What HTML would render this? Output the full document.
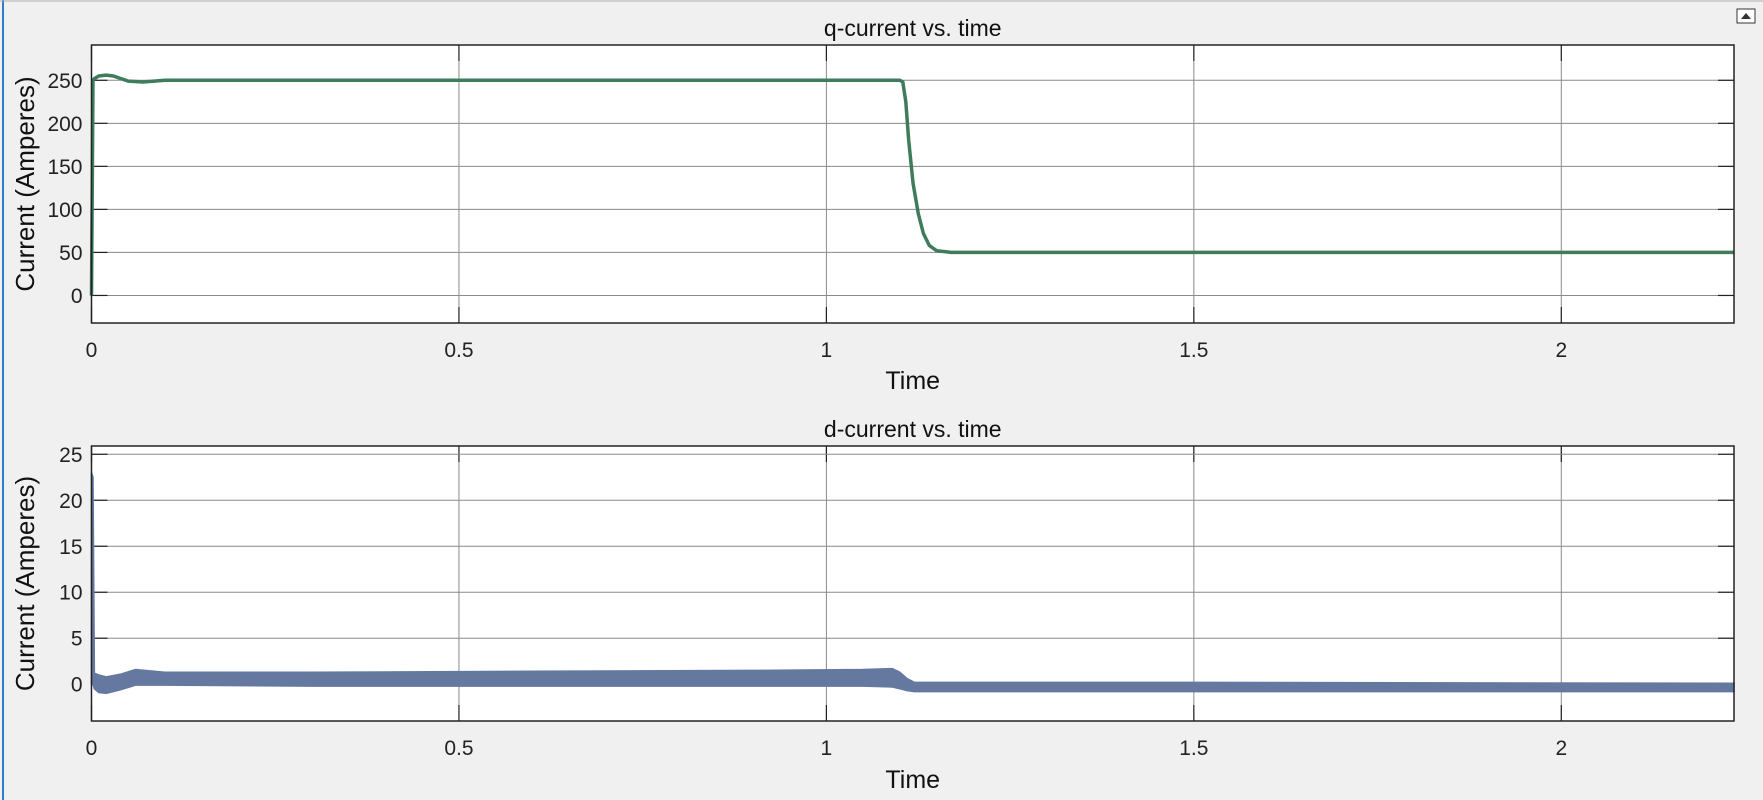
<!DOCTYPE html>
<html><head><meta charset="utf-8">
<style>
html,body{margin:0;padding:0;background:#f0f0f0;width:1763px;height:800px;overflow:hidden;font-family:"Liberation Sans",sans-serif;}
svg{display:block}
</style></head>
<body>
<svg id="fig" width="1763" height="800">
<rect x="0" y="0" width="1763" height="800" fill="#f0f0f0"/>
<line x1="3" y1="0" x2="3" y2="800" stroke="#2d7fc9" stroke-width="2"/>
<line x1="0" y1="1" x2="1763" y2="1" stroke="#b0b0b0" stroke-width="1"/>
<g>
<rect x="1737" y="9" width="18" height="14" fill="#fff" stroke="#333" stroke-width="1"/>
<path d="M1741 19 L1746 13 L1751 19 Z" fill="#333"/>
</g>
</svg>
<script>
const qTime=[0,0.002,0.004,0.01,0.02,0.03,0.04,0.05,0.07,0.1,0.5,1.0,1.1,1.104,1.108,1.112,1.118,1.125,1.132,1.14,1.15,1.17,1.2,1.6,2.235];
const qValues=[0,250,252,255,256,255,252,249,248,250,250,250,250,248,225,180,130,95,72,58,52,50,50,50,50];
const dTime=[0,0.002,0.004,0.01,0.02,0.04,0.06,0.1,0.3,0.6,0.9,1.05,1.09,1.1,1.11,1.12,1.5,2.235];
const dUpper=[23,22.5,1.2,1.0,0.8,1.1,1.6,1.3,1.3,1.4,1.5,1.6,1.7,1.3,0.6,0.2,0.2,0.1];
const dLower=[0,0,-0.5,-0.9,-1.0,-0.6,-0.1,-0.1,-0.2,-0.2,-0.2,-0.2,-0.3,-0.5,-0.7,-0.8,-0.8,-0.8];
const xTicks=[0,0.5,1,1.5,2];
const xTickLabels=["0","0.5","1","1.5","2"];
const qYTicks=[0,50,100,150,200,250];
const dYTicks=[0,5,10,15,20,25];

const NS="http://www.w3.org/2000/svg";
const svg=document.getElementById('fig');
function mk(tag,attrs,parent){const e=document.createElementNS(NS,tag);for(const k in attrs)e.setAttribute(k,attrs[k]);(parent||svg).appendChild(e);return e;}

function axes(cfg){
  const {L,R,T,B,xmin,xmax,ymin,ymax,yTicks,title,titleY,tickY,xlabY,name}=cfg;
  const xs=v=>L+(v-xmin)/(xmax-xmin)*(R-L);
  const ys=v=>B-(v-ymin)/(ymax-ymin)*(B-T);
  const g=mk('g',{});
  
  
  const bg=mk('rect',{x:L,y:T,width:R-L,height:B-T,fill:'#fff'},g);
  
  
  xTicks.forEach((t,i)=>{
    const x=xs(t);
    const gl=mk('line',{x1:x,y1:T,x2:x,y2:B,stroke:'#8a8a8a','stroke-width':1},g);
    
    
    mk('line',{x1:x,y1:B,x2:x,y2:B-16,stroke:'#222','stroke-width':1.2},g);
    mk('line',{x1:x,y1:T,x2:x,y2:T+16,stroke:'#222','stroke-width':1.2},g);
    const tl=mk('text',{x:x,y:tickY,'text-anchor':'middle','font-size':21,fill:'#222'},g);
    tl.textContent=xTickLabels[i];
    
    
  });
  yTicks.forEach(v=>{
    const y=ys(v);
    const gl=mk('line',{x1:L,y1:y,x2:R,y2:y,stroke:'#8a8a8a','stroke-width':1},g);
    
    
    mk('line',{x1:L,y1:y,x2:L+16,y2:y,stroke:'#222','stroke-width':1.2},g);
    mk('line',{x1:R,y1:y,x2:R-16,y2:y,stroke:'#222','stroke-width':1.2},g);
    const tl=mk('text',{x:L-9,y:y+7.5,'text-anchor':'end','font-size':21,fill:'#222'},g);
    tl.textContent=String(v);
    
    
  });
  const tt=mk('text',{x:(L+R)/2,y:titleY,'text-anchor':'middle','font-size':23,fill:'#111'},svg);
  tt.textContent=title;
  
  
  const xl=mk('text',{x:(L+R)/2,y:xlabY,'text-anchor':'middle','font-size':25,fill:'#111'},svg);
  xl.textContent='Time';
  
  
  const cy=(T+B)/2;
  const yl=mk('text',{x:0,y:0,'text-anchor':'middle','font-size':26,fill:'#111',transform:`translate(34,${cy}) rotate(-90)`},svg);
  yl.textContent='Current (Amperes)';
  
  
  return {xs,ys,g,L,R,T,B};
}

const q=axes({L:91.5,R:1734,T:45,B:323,xmin:0,xmax:2.235,ymin:-32,ymax:291,yTicks:qYTicks,title:'q-current vs. time',titleY:36,tickY:357,xlabY:389,name:'q-current'});
const qd=qTime.map((t,i)=>(i?'L':'M')+q.xs(t).toFixed(1)+' '+q.ys(qValues[i]).toFixed(1)).join(' ');
const qp=mk('path',{d:qd,fill:'none',stroke:'#3e7c5c','stroke-width':3.5,'stroke-linejoin':'round'});


mk('rect',{x:q.L,y:q.T,width:q.R-q.L,height:q.B-q.T,fill:'none',stroke:'#222','stroke-width':1.5});

const d=axes({L:91.5,R:1734,T:446,B:721,xmin:0,xmax:2.235,ymin:-4,ymax:25.9,yTicks:dYTicks,title:'d-current vs. time',titleY:437,tickY:755,xlabY:788,name:'d-current'});
let dd=dTime.map((t,i)=>(i?'L':'M')+d.xs(t).toFixed(1)+' '+d.ys(dUpper[i]).toFixed(1)).join(' ');
for(let i=dTime.length-1;i>=0;i--) dd+=' L'+d.xs(dTime[i]).toFixed(1)+' '+d.ys(dLower[i]).toFixed(1);
dd+=' Z';
const dp=mk('path',{d:dd,fill:'#6478a0',stroke:'#6478a0','stroke-width':1.5});


mk('rect',{x:d.L,y:d.T,width:d.R-d.L,height:d.B-d.T,fill:'none',stroke:'#222','stroke-width':1.5});
</script>
</body></html>
